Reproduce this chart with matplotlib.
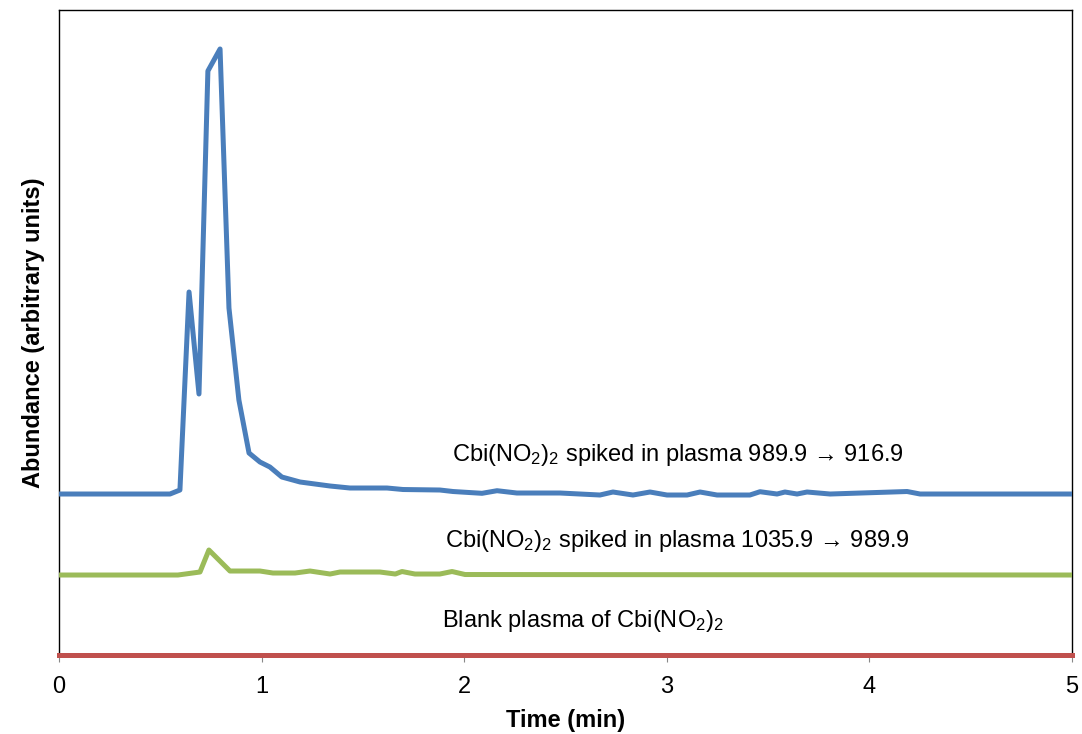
# cromatograma de Cbi(NO2)2 en plasma
import matplotlib.pyplot as plt

plt.rcParams['font.family'] = ['Liberation Sans', 'DejaVu Sans']
plt.rcParams['mathtext.default'] = 'regular'

# traza azul 989.9 -> 916.9 (tiempo en min, abundancia en unidades arbitrarias)
t_azul = [0.0, 0.548, 0.597, 0.642, 0.691, 0.735, 0.795, 0.839, 0.888, 0.938,
          0.992, 1.041, 1.10, 1.19, 1.338, 1.436, 1.619, 1.698, 1.88, 1.945,
          2.088, 2.162, 2.26, 2.473, 2.67, 2.734, 2.833, 2.917, 3.001, 3.1,
          3.164, 3.248, 3.41, 3.46, 3.544, 3.583, 3.643, 3.692, 3.806, 4.186,
          4.25, 5.0]
y_azul = [161, 161, 165, 363, 261, 584, 606, 347, 255, 202,
          193, 188, 178, 173, 169, 167, 167, 165.5, 165, 163.5,
          161.7, 164.3, 162, 162, 160, 163, 160, 163, 160, 160,
          163, 160, 160, 163.3, 161, 163, 161, 163, 161, 163.5,
          161, 161]

# traza verde 1035.9 -> 989.9
t_verde = [0.0, 0.587, 0.696, 0.74, 0.844, 0.992, 1.056, 1.165, 1.239, 1.338,
           1.387, 1.584, 1.66, 1.693, 1.757, 1.88, 1.94, 2.004, 5.0]
y_verde = [80, 80, 83, 105, 84, 84, 82, 82, 84, 81,
           83, 83, 81, 83.5, 81, 81, 83.5, 80.5, 80]

# traza roja, plasma blanco
t_rojo = [0.0, 5.0]
y_rojo = [0, 0]

fig, ax = plt.subplots(figsize=(10.82, 7.34), dpi=100)
fig.subplots_adjust(left=0.0545, right=0.9908, bottom=0.1076, top=0.9864)

ax.plot(t_rojo, y_rojo, color='#C0504D', lw=3.6, clip_on=False, zorder=3)
ax.plot(t_verde, y_verde, color='#9BBB59', lw=3.6, zorder=3)
ax.plot(t_azul, y_azul, color='#4A7EBB', lw=3.6, zorder=3)

# etiquetas de cada traza
ax.text(1.94, 194, r'Cbi(NO$_2$)$_2$ spiked in plasma 989.9 → 916.9', fontsize=17, va='baseline')
ax.text(1.905, 108, r'Cbi(NO$_2$)$_2$ spiked in plasma 1035.9 → 989.9', fontsize=17, va='baseline')
ax.text(1.89, 28, r'Blank plasma of Cbi(NO$_2$)$_2$', fontsize=17, va='baseline')

ax.set_xlim(0, 5)
ax.set_ylim(0, 645)
ax.set_xticks([0, 1, 2, 3, 4, 5])
ax.set_yticks([])
ax.tick_params(axis='x', labelsize=17, length=5, color='#888888', direction='out', pad=10)
for s in ax.spines.values():
    s.set_linewidth(1.0)
    s.set_color('black')

ax.set_xlabel('Time (min)', fontsize=17, fontweight='bold', labelpad=8)
ax.set_ylabel('Abundance (arbitrary units)', fontsize=17, fontweight='bold', labelpad=10)

fig.savefig('out.png', dpi=100)
